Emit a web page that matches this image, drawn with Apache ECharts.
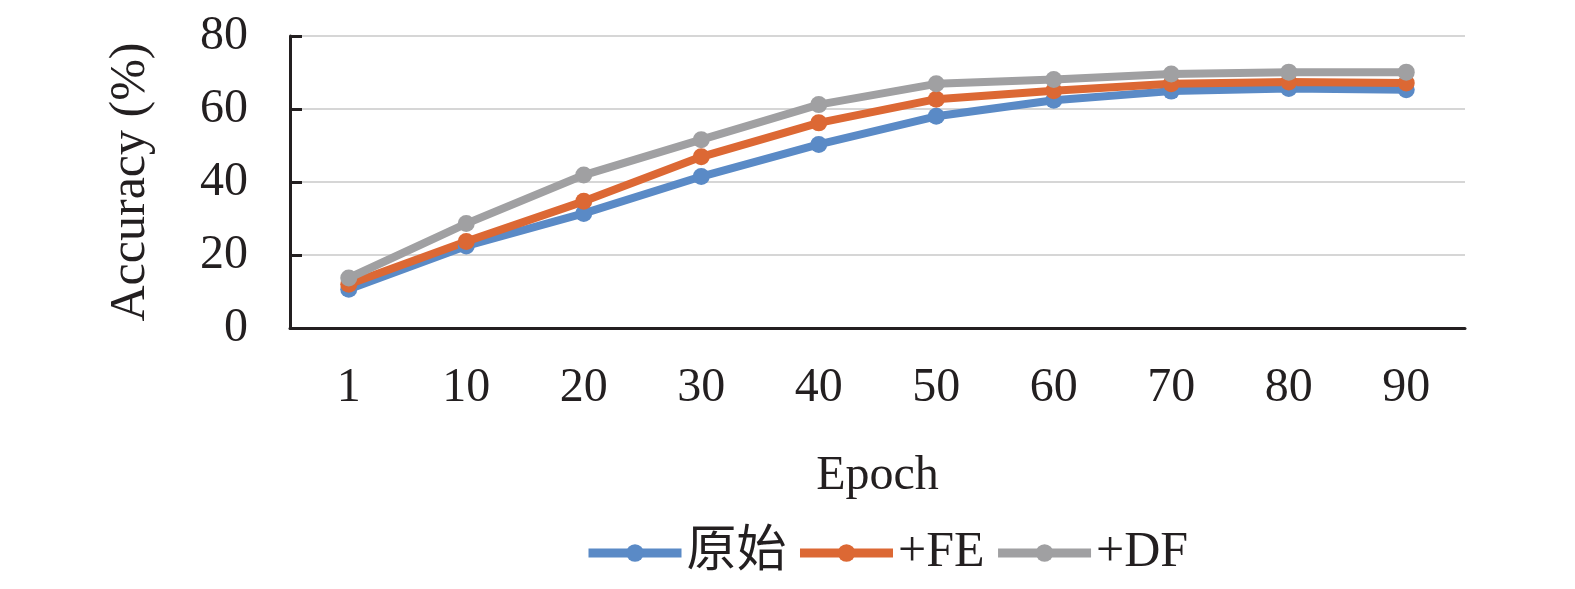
<!DOCTYPE html>
<html>
<head>
<meta charset="utf-8">
<script src="https://cdn.jsdelivr.net/npm/echarts@6/dist/echarts.min.js"></script>
<style>
  html, body { margin: 0; padding: 0; background: #fff; }
  #chart { width: 1575px; height: 589px; }
</style>
</head>
<body>
<div id="chart"></div>
<script>
// 数据
var epochs = ['1', '10', '20', '30', '40', '50', '60', '70', '80', '90'];
var yTicks = [0, 20, 40, 60, 80];
var seriesNames = ['原始', '+FE', '+DF'];
var baseAcc = [10.6, 22.5, 31.4, 41.5, 50.3, 58.0, 62.4, 64.9, 65.6, 65.3];
var feAcc = [12.0, 23.7, 34.7, 46.9, 56.2, 62.7, 65.0, 66.9, 67.4, 67.1];
var dfAcc = [13.7, 28.6, 41.9, 51.6, 61.2, 66.9, 68.1, 69.6, 70.1, 70.1];
var colors = ['#5a8ac6', '#dc6834', '#a0a0a2'];

(function () {
  var myChart = echarts.init(document.getElementById('chart'));
  var serif = '"Liberation Serif", "Times New Roman", "Noto Sans CJK SC", serif';

  function lineSeries(name, data, color) {
    return {
      name: name,
      type: 'line',
      data: data,
      symbol: 'circle',
      symbolSize: 17,
      lineStyle: { width: 8, color: color },
      itemStyle: { color: color },
      emphasis: { disabled: true }
    };
  }

  var option = {
    animation: false,
    color: colors,
    textStyle: { fontFamily: serif, color: '#231f20' },
    legend: {
      top: 528,
      left: 584,
      padding: 0,
      itemWidth: 93,
      itemHeight: 22,
      itemGap: 9,
      lineStyle: { width: 9 },
      textStyle: { fontSize: 50, fontFamily: serif, color: '#231f20' },
      data: seriesNames
    },
    grid: {
      left: 290,
      right: 110,
      top: 36,
      bottom: 261
    },
    xAxis: {
      type: 'category',
      data: epochs,
      name: 'Epoch',
      nameLocation: 'middle',
      nameGap: 124,
      nameTextStyle: { fontSize: 48, fontFamily: serif, color: '#231f20' },
      axisTick: {
        alignWithLabel: true,
        inside: true,
        length: 12,
        lineStyle: { color: '#231f20', width: 3 }
      },
      axisLine: { lineStyle: { color: '#231f20', width: 3 } },
      axisLabel: { fontSize: 48, margin: 36, color: '#231f20', fontFamily: serif }
    },
    yAxis: {
      type: 'value',
      min: yTicks[0],
      max: yTicks[yTicks.length - 1],
      interval: 20,
      name: 'Accuracy (%)',
      nameLocation: 'middle',
      nameGap: 134,
      nameTextStyle: { fontSize: 50, fontFamily: serif, color: '#231f20' },
      axisLine: { show: true, lineStyle: { color: '#231f20', width: 3 } },
      axisTick: {
        show: true,
        inside: true,
        length: 12,
        lineStyle: { color: '#231f20', width: 3 }
      },
      axisLabel: { fontSize: 48, margin: 42, color: '#231f20', fontFamily: serif },
      splitLine: { lineStyle: { color: '#d6d6d6', width: 2 } }
    },
    series: [
      lineSeries(seriesNames[0], baseAcc, colors[0]),
      lineSeries(seriesNames[1], feAcc, colors[1]),
      lineSeries(seriesNames[2], dfAcc, colors[2])
    ]
  };
  myChart.setOption(option);
})();
</script>
</body>
</html>
